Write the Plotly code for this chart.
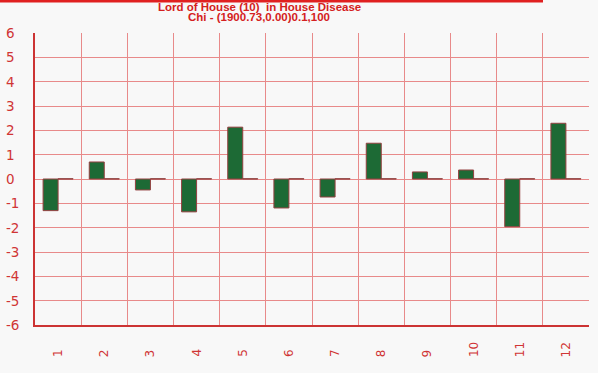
import plotly.graph_objects as go

categories = [1, 2, 3, 4, 5, 6, 7, 8, 9, 10, 11, 12]
tick_labels = ["1", "2", "3", "4", "5", "6", "7", "8", "9", "10", "11", "12"]
chi_values = [-1.30, 0.70, -0.45, -1.35, 2.13, -1.19, -0.74, 1.47, 0.29, 0.37, -1.96, 2.29]
expected_values = [0.01, 0.01, 0.01, 0.01, 0.01, 0.01, 0.01, 0.01, 0.01, 0.01, 0.01, 0.01]
y_ticks = [6, 5, 4, 3, 2, 1, 0, -1, -2, -3, -4, -5, -6]

W, H = 598, 373
L, R, T, B = 35, 9, 33, 48
pw, ph = W - L - R, H - T - B

def px_x(p):
    return (p - L) / pw

def px_y(p):
    return 1 - (p - T) / ph

RED = "#d03535"
fig = go.Figure()
fig.add_trace(go.Bar(x=categories, y=chi_values, marker=dict(color="#1d6a35", line=dict(color="#944040", width=1))))
fig.add_trace(go.Bar(x=categories, y=expected_values, marker=dict(color="#1d6a35", line=dict(color="#944040", width=1))))

annotations = [
    dict(text="<b>Lord of House (10)  in House Disease</b>", x=px_x(259), y=px_y(7), xref="paper", yref="paper",
         xanchor="center", yanchor="middle", showarrow=False, font=dict(family="Liberation Sans", size=11.5, color="#d42020")),
    dict(text="<b>Chi - (1900.73,0.00)0.1,100</b>", x=px_x(259), y=px_y(17.5), xref="paper", yref="paper",
         xanchor="center", yanchor="middle", showarrow=False, font=dict(family="Liberation Sans", size=11.5, color="#d42020")),
]
for v in y_ticks:
    annotations.append(dict(text=str(v), x=px_x(3.5), y=v, xref="paper", yref="y", xanchor="left", yanchor="middle",
                            showarrow=False, font=dict(family="DejaVu Sans", size=13.5, color=RED)))
for c, t in zip(categories, tick_labels):
    annotations.append(dict(text=t, x=c, y=px_y(359), xref="x", yref="paper", xanchor="center", yanchor="bottom",
                            textangle=-90, showarrow=False, font=dict(family="DejaVu Sans", size=12, color=RED)))

fig.update_layout(
    width=W, height=H,
    margin=dict(l=L, r=R, t=T, b=B, pad=0),
    paper_bgcolor="#f8f8f8", plot_bgcolor="#f8f8f8",
    barmode="group", bargap=0.35, bargroupgap=0,
    showlegend=False,
    annotations=annotations,
    shapes=[dict(type="rect", xref="paper", yref="paper", x0=px_x(0), x1=px_x(543), y0=px_y(0), y1=px_y(2.5),
                 fillcolor="#e02020", line=dict(width=0), layer="above")],
    xaxis=dict(range=[0.5, 12.5], showgrid=False, showticklabels=False, ticks="", zeroline=False,
               showline=True, linecolor="#cc3333", linewidth=1.5,
               minor=dict(tick0=0.5, dtick=1, showgrid=True, gridcolor="#e88a8a", gridwidth=1, ticks="")),
    yaxis=dict(range=[-6, 6], dtick=1, showgrid=True, gridcolor="#e88a8a", gridwidth=1, zeroline=False,
               showticklabels=False, ticks="", showline=True, linecolor="#cc3333", linewidth=1.5),
)
fig.write_html("out.html", config={"displayModeBar": False},
               post_script="document.body.style.margin='0';document.body.style.background='#f8f8f8';")
